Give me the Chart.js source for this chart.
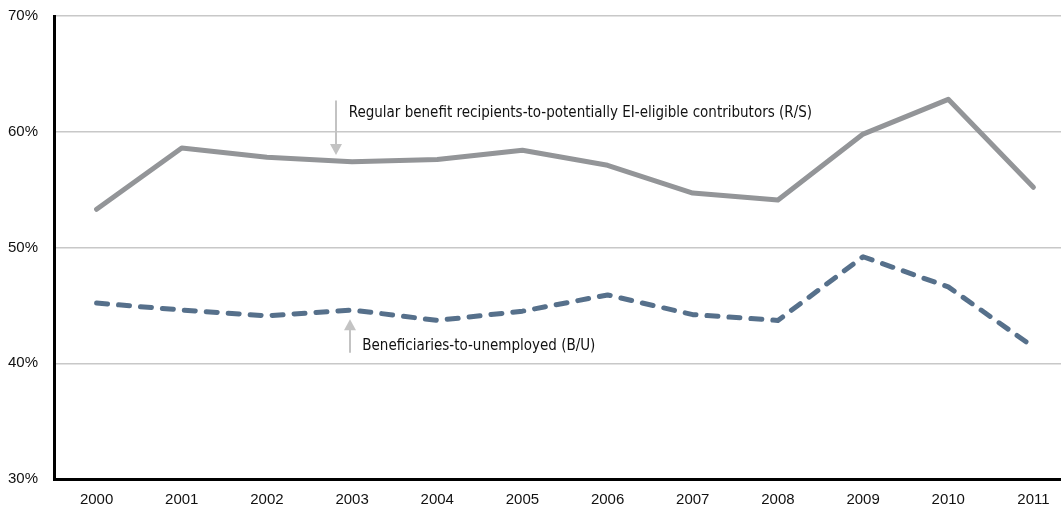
<!DOCTYPE html>
<html>
<head>
<meta charset="utf-8">
<script src="https://cdn.jsdelivr.net/npm/chart.js@4"></script>
<style>
  html, body { margin: 0; padding: 0; background: #fff; overflow: hidden; }
  #wrap { width: 1076px; height: 530px; margin-top: -9px; }
</style>
</head>
<body>
<div id="wrap"><canvas id="chart"></canvas></div>
<script>
const years = ['2000', '2001', '2002', '2003', '2004', '2005', '2006', '2007', '2008', '2009', '2010', '2011'];
const rsRatio = [53.3, 58.6, 57.8, 57.4, 57.6, 58.4, 57.1, 54.7, 54.1, 59.8, 62.8, 55.2];
const buRatio = [45.2, 44.6, 44.1, 44.6, 43.7, 44.5, 45.9, 44.2, 43.7, 49.2, 46.6, 41.4];
const yTicks = [30, 40, 50, 60, 70];

const rsLabel = 'Regular benefit recipients-to-potentially EI-eligible contributors (R/S)';
const buLabel = 'Beneficiaries-to-unemployed (B/U)';

const tickFont = 'Liberation Sans, Arial, sans-serif';
const narrow = 'Liberation Sans Narrow, DejaVu Sans Condensed, Liberation Sans, sans-serif';

// arrows + labels placed in data space
const notes = {
    id: 'notes',
    afterDatasetsDraw(chart) {
        const { ctx, scales: { x, y } } = chart;
        ctx.save();
        ctx.strokeStyle = '#c3c3c3';
        ctx.fillStyle = '#c3c3c3';
        ctx.lineWidth = 2;

        function arrow(xv, fromV, toV) {
            const px = Math.round(x.getPixelForValue(xv));
            const y1 = y.getPixelForValue(fromV);
            const y2 = y.getPixelForValue(toV);
            const dir = y2 > y1 ? 1 : -1;
            ctx.beginPath();
            ctx.moveTo(px, y1);
            ctx.lineTo(px, y2 - dir * 8);
            ctx.stroke();
            ctx.beginPath();
            ctx.moveTo(px - 6, y2 - dir * 11);
            ctx.lineTo(px + 6, y2 - dir * 11);
            ctx.lineTo(px, y2);
            ctx.closePath();
            ctx.fill();
        }
        arrow(2.81, 62.7, 58.0);
        arrow(2.98, 40.9, 43.8);

        ctx.fillStyle = '#111';
        ctx.font = '15px ' + narrow;
        ctx.textBaseline = 'middle';
        ctx.textAlign = 'left';
        ctx.fillText(rsLabel, x.getPixelForValue(2.96), y.getPixelForValue(61.6));
        ctx.fillText(buLabel, x.getPixelForValue(3.12), y.getPixelForValue(41.5));
        ctx.restore();
    }
};

function draw() {
    new Chart(document.getElementById('chart'), {
        type: 'line',
        data: {
            labels: years,
            datasets: [{
                label: 'R/S',
                data: rsRatio,
                borderColor: '#939598',
                borderWidth: 5,
                pointRadius: 0,
                tension: 0,
                borderCapStyle: 'round',
                borderJoinStyle: 'round'
            }, {
                label: 'B/U',
                data: buRatio,
                borderColor: '#56708b',
                borderWidth: 5,
                borderDash: [11, 11],
                pointRadius: 0,
                tension: 0,
                borderCapStyle: 'round',
                borderJoinStyle: 'round'
            }]
        },
        options: {
            responsive: true,
            maintainAspectRatio: false,
            animation: false,
            layout: { padding: 0 },
            plugins: {
                legend: { display: false },
                tooltip: { enabled: false }
            },
            scales: {
                x: {
                    offset: true,
                    grid: { display: false, drawTicks: false },
                    border: { color: '#000', width: 3 },
                    ticks: {
                        color: '#111',
                        padding: 12,
                        font: { family: tickFont, size: 15 }
                    }
                },
                y: {
                    min: 30,
                    max: 70,
                    afterBuildTicks(axis) {
                        axis.ticks = yTicks.map(v => ({ value: v }));
                    },
                    afterFit(axis) { axis.width = 54; },
                    grid: { color: '#c8c8c8', lineWidth: 1.5, drawTicks: false },
                    border: { color: '#000', width: 3 },
                    ticks: {
                        color: '#111',
                        padding: 16,
                        font: { family: tickFont, size: 15 },
                        callback: v => v + '%'
                    }
                }
            }
        },
        plugins: [notes]
    });
}

Promise.all([
    document.fonts.load('15px "Liberation Sans"'),
    document.fonts.load('15px "Liberation Sans Narrow"'),
    document.fonts.load('15px "DejaVu Sans Condensed"')
]).then(draw, draw);
</script>
</body>
</html>
